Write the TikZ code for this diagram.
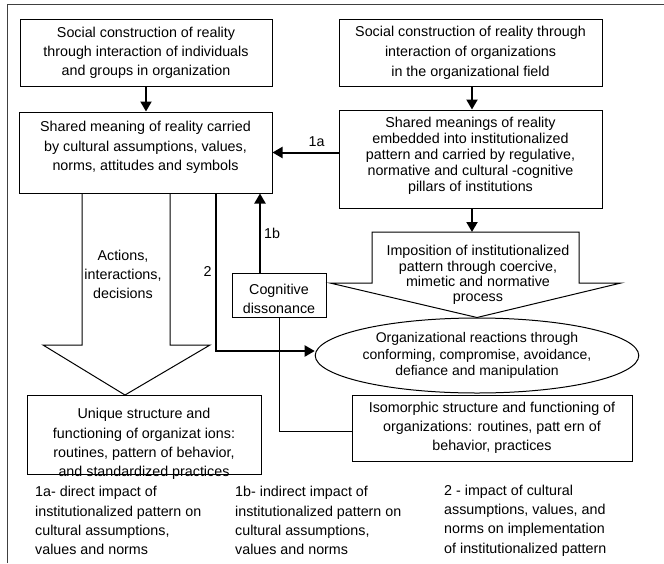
\documentclass[tikz,border=0pt]{standalone}
\usepackage{fontspec}
\setmainfont{Liberation Sans}
\usetikzlibrary{arrows.meta,shapes.geometric}
\newcommand{\fsz}[2]{\fontsize{#1}{#2}\selectfont}
\begin{document}
\begin{tikzpicture}[x=1pt,y=-1pt,
  box/.style={draw, line width=1pt, inner sep=0pt, align=center},
  txt/.style={inner sep=0pt, align=center},
  lefttxt/.style={inner sep=0pt, align=left, anchor=west, font=\fsz{14.3}{19.2}},
  arr/.style={line width=2pt, -{Triangle[length=10pt,width=11pt]}},
  thinline/.style={line width=1pt},
  frame/.style={line width=1pt, black!75},
]
\useasboundingbox (0,0) rectangle (664,563);
\draw[frame] (7,563) -- (7,4) -- (664,4);

% top boxes
\node[box, minimum width=252pt, minimum height=67pt, font=\fsz{14.3}{19.2}] (A) at (146,52.5)
  {Social construction of reality\\through interaction of individuals\\and groups in organization};
\node[box, minimum width=253pt, minimum height=81pt] (B) at (145.5,152.5) {};
\node[txt, font=\fsz{14.3}{19.5}] (Bt) at (145.5,147.5)
  {Shared meaning of reality carried\\by cultural assumptions, values,\\norms, attitudes and symbols};
\node[box, minimum width=263pt, minimum height=67pt, font=\fsz{14.3}{20}] (C) at (470.5,52.5)
  {Social construction of reality through\\interaction of organizations\\in the organizational field};
\node[box, minimum width=263pt, minimum height=98pt] (D) at (470.5,159) {};
\node[txt, font=\fsz{14.3}{16}] (Dt) at (470.5,155.5)
  {Shared meanings of reality\\embedded into institutionalized\\pattern and carried by regulative,\\normative and cultural -cognitive\\pillars of institutions};

% cognitive dissonance
\node[box, minimum width=94pt, minimum height=44pt] (Cog) at (279,295) {};
\node[txt, font=\fsz{14.3}{19}] (Cogt) at (279,298.5) {Cognitive\\dissonance};

% ellipse
\node[draw, ellipse, line width=1pt, inner sep=0pt, minimum width=258pt, minimum height=75pt,
      align=center, font=\fsz{14}{16.5}] (E) at (477,355.5)
  {Organizational reactions through\\conforming, compromise, avoidance,\\defiance and manipulation};

% bottom boxes
\node[box, minimum width=234pt, minimum height=79pt] (U) at (144,434.5) {};
\node[txt, font=\fsz{14.3}{19.2}] (Ut) at (144,444)
  {Unique structure and\\functioning of organizat ions:\\routines, pattern of behavior,\\and standardized practices};
\node[box, minimum width=280pt, minimum height=66pt, font=\fsz{14.3}{19}] (Iso) at (492,428)
  {Isomorphic structure and functioning of\\organizations: routines, patt ern of\\behavior, practices};

% block arrow (left)
\draw[thinline] (82,193) -- (82,345) -- (43,345) -- (125,395) -- (210,345) -- (170,345) -- (170,193);
\node[txt, font=\fsz{14.3}{19}] (Act) at (123,274.5) {Actions,\\interactions,\\decisions};

% pentagon block arrow (right)
\coordinate (Ptop) at (472,232);
\draw[thinline] (372,232) -- (579,232) -- (579,283) -- (621,283) -- (E.north) -- (330,283) -- (372,283) -- cycle;
\node[txt, font=\fsz{14.3}{15.3}] (Pt) at (478,275)
  {Imposition of institutionalized\\pattern through coercive,\\mimetic and normative\\process};

% connectors
\draw[arr] (A.south) -- (A.south |- B.north);
\draw[arr] ([xshift=1.5pt]C.south) -- ([xshift=1.5pt]C.south |- D.north);
\draw[arr] (D.south -| Ptop) -- (Ptop);
\draw[arr] (D.west |- B.east) -- (B.east);
\draw[arr] ([xshift=-19pt]Cog.north) -- ([xshift=-19pt]Cog.north |- B.south);
\draw[arr] ([xshift=70.5pt]B.south) |- ([yshift=4.5pt]E.west);
\draw[thinline] (Cog.south) |- ([yshift=-3pt]Iso.west);

% labels
\node[txt, font=\fsz{14.3}{16}] (l1a) at (316.5,142) {1a};
\node[txt, font=\fsz{14.3}{16}] (l1b) at (272,233) {1b};
\node[txt, font=\fsz{14.3}{16}] (l2) at (207.5,271.5) {2};

% legend
\node[lefttxt] (g1) at (35,520.5)
  {1a- direct impact of\\institutionalized pattern on\\cultural assumptions,\\values and norms};
\node[lefttxt] (g2) at (235,520.5)
  {1b- indirect impact of\\institutionalized pattern on\\cultural assumptions,\\values and norms};
\node[lefttxt] (g3) at (444,520.5)
  {2 - impact of cultural\\assumptions, values, and\\norms on implementation\\of institutionalized pattern};
\end{tikzpicture}
\end{document}
